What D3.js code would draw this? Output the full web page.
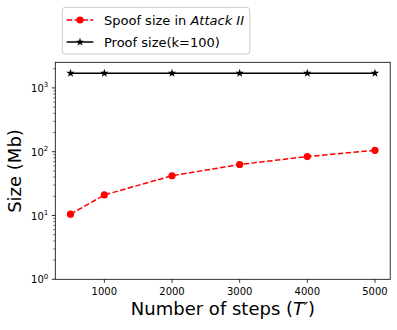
<!DOCTYPE html>
<html><head><meta charset="utf-8">
<script src="https://cdn.jsdelivr.net/npm/d3@7"></script>
<style>body{margin:0;background:#fff}svg{display:block;font-family:"DejaVu Sans",sans-serif}</style>
</head><body>
<script>
const steps = [500, 1000, 2000, 3000, 4000, 5000];
const spoofSize = [10.5, 21, 42, 63, 84, 105];
const proofSize = [1700, 1700, 1700, 1700, 1700, 1700];
const xTicks = [1000, 2000, 3000, 4000, 5000];
const yTicks = [1, 10, 100, 1000];
const seriesNames = ["Spoof size in ", "Attack II", "Proof size(k=100)"];

const W = 397, H = 330;
const L = 55.3, R = 390.2, T = 62.3, B = 279.3;
const svg = d3.select("body").append("svg").attr("width", W).attr("height", H);

const x = d3.scaleLinear().domain([275, 5225]).range([L, R]);
const y = d3.scaleLog().domain([1, 2520]).range([B, T]);

// y ticks
const gy = svg.append("g");
yTicks.forEach(v => {
  gy.append("line").attr("x1", L - 3.5).attr("x2", L).attr("y1", y(v)).attr("y2", y(v)).attr("stroke", "#000").attr("stroke-width", 0.8);
  const t = gy.append("text").attr("x", L - 7).attr("y", y(v) + 4).attr("text-anchor", "end").attr("font-size", 10).attr("fill", "#000");
  t.append("tspan").text("10");
  t.append("tspan").attr("dy", -4.5).attr("font-size", 7).text(Math.round(Math.log10(v)));
});
// minor ticks
for (let d = 0; d < 4; d++) {
  for (let m = 2; m <= 9; m++) {
    const v = m * Math.pow(10, d);
    if (v > 2520) continue;
    gy.append("line").attr("x1", L - 2).attr("x2", L).attr("y1", y(v)).attr("y2", y(v)).attr("stroke", "#000").attr("stroke-width", 0.6);
  }
}
// x ticks
const gx = svg.append("g");
xTicks.forEach(v => {
  gx.append("line").attr("x1", x(v)).attr("x2", x(v)).attr("y1", B).attr("y2", B + 3.5).attr("stroke", "#000").attr("stroke-width", 0.8);
  gx.append("text").attr("x", x(v)).attr("y", B + 15.5).attr("text-anchor", "middle").attr("font-size", 10).attr("fill", "#000").text(v);
});

// frame
svg.append("rect").attr("x", L).attr("y", T).attr("width", R - L).attr("height", B - T).attr("fill", "none").attr("stroke", "#000").attr("stroke-width", 0.8);

const line = d3.line().x(d => x(d[0])).y(d => y(d[1]));

// proof line
const proofData = steps.map((s, i) => [s, proofSize[i]]);
svg.append("path").attr("d", line(proofData)).attr("fill", "none").attr("stroke", "#000").attr("stroke-width", 1.5);
const star = d3.symbol().type(d3.symbolStar).size(22);
svg.selectAll(".star").data(proofData).enter().append("path").attr("d", star)
  .attr("transform", d => `translate(${x(d[0])},${y(d[1])})`).attr("fill", "#000");

// spoof line
const spoofData = steps.map((s, i) => [s, spoofSize[i]]);
svg.append("path").attr("d", line(spoofData)).attr("fill", "none").attr("stroke", "red").attr("stroke-width", 1.5).attr("stroke-dasharray", "5.5,2.4");
svg.selectAll(".dot").data(spoofData).enter().append("circle")
  .attr("cx", d => x(d[0])).attr("cy", d => y(d[1])).attr("r", 3.6).attr("fill", "red");

// axis labels
const xl = svg.append("text").attr("x", 223).attr("y", 315).attr("text-anchor", "middle").attr("font-size", 18).attr("fill", "#000");
xl.append("tspan").text("Number of steps (");
xl.append("tspan").attr("font-style", "italic").text("T′");
xl.append("tspan").text(")");
svg.append("text").attr("transform", "translate(21,171) rotate(-90)").attr("text-anchor", "middle").attr("font-size", 18).attr("fill", "#000").text("Size (Mb)");

// legend
const lg = svg.append("g");
lg.append("rect").attr("x", 62.3).attr("y", 7.3).attr("width", 187.5).attr("height", 46.7).attr("rx", 3).attr("fill", "#fff").attr("stroke", "#ccc").attr("stroke-width", 1);
lg.append("line").attr("x1", 66.7).attr("x2", 93.3).attr("y1", 20).attr("y2", 20).attr("stroke", "red").attr("stroke-width", 1.5).attr("stroke-dasharray", "5.5,2.4");
lg.append("circle").attr("cx", 80).attr("cy", 20).attr("r", 3.6).attr("fill", "red");
const t1 = lg.append("text").attr("x", 104).attr("y", 24.7).attr("font-size", 13).attr("fill", "#000");
t1.append("tspan").text(seriesNames[0]);
t1.append("tspan").attr("font-style", "italic").text(seriesNames[1]);
lg.append("line").attr("x1", 66.7).attr("x2", 93.3).attr("y1", 42).attr("y2", 42).attr("stroke", "#000").attr("stroke-width", 1.5);
lg.append("path").attr("d", star).attr("transform", "translate(80,42)").attr("fill", "#000");
lg.append("text").attr("x", 104).attr("y", 46.7).attr("font-size", 13).attr("fill", "#000").text(seriesNames[2]);
</script>
</body></html>
